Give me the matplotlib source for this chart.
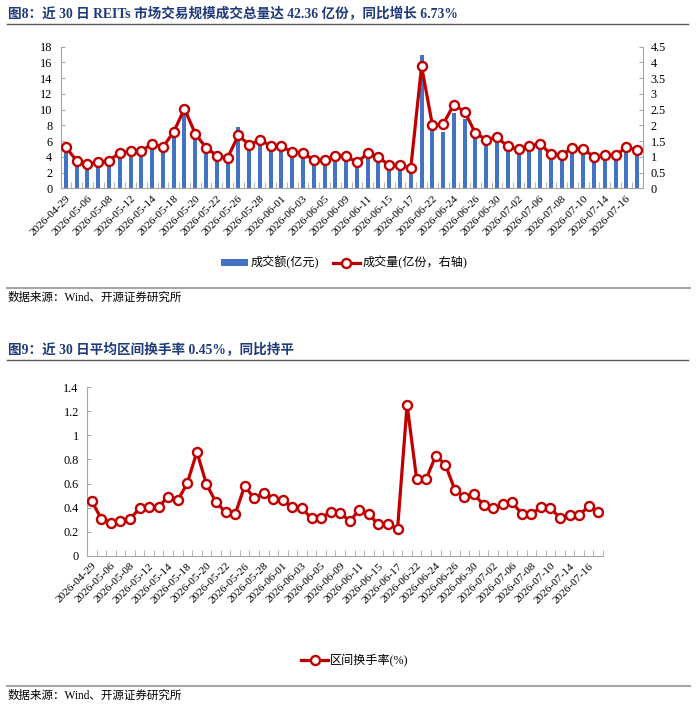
import matplotlib
matplotlib.use("Agg")
import matplotlib.pyplot as plt
from matplotlib.lines import Line2D
from matplotlib.patches import Patch
import numpy as np

plt.rcParams['font.family'] = ['Liberation Serif', 'Noto Sans CJK SC', 'DejaVu Sans']

dates = ["2026-04-29", "2026-04-30", "2026-05-06", "2026-05-07", "2026-05-08", "2026-05-11",
         "2026-05-12", "2026-05-13", "2026-05-14", "2026-05-15", "2026-05-18", "2026-05-19",
         "2026-05-20", "2026-05-21", "2026-05-22", "2026-05-25", "2026-05-26", "2026-05-27",
         "2026-05-28", "2026-05-29", "2026-06-01", "2026-06-02", "2026-06-03", "2026-06-04",
         "2026-06-05", "2026-06-08", "2026-06-09", "2026-06-10", "2026-06-11", "2026-06-12",
         "2026-06-15", "2026-06-16", "2026-06-17", "2026-06-18", "2026-06-22", "2026-06-23",
         "2026-06-24", "2026-06-25", "2026-06-26", "2026-06-29", "2026-06-30", "2026-07-01",
         "2026-07-02", "2026-07-03", "2026-07-06", "2026-07-07", "2026-07-08", "2026-07-09",
         "2026-07-10", "2026-07-13", "2026-07-14", "2026-07-15", "2026-07-16", "2026-07-17"]

amount = [4.9, 3.05, 2.75, 2.9, 3.05, 4.0, 4.15, 4.2, 5.2, 4.65,
          6.65, 9.6, 6.45, 4.75, 3.8, 3.6, 7.85, 5.15, 5.85, 5.2,
          5.1, 4.2, 4.1, 3.2, 3.4, 3.8, 3.8, 3.0, 4.0, 3.6,
          2.6, 2.6, 2.1, 16.9, 7.3, 7.1, 9.6, 8.8, 6.55, 5.7,
          6.05, 5.0, 4.6, 4.95, 5.3, 3.95, 3.95, 4.75, 4.65, 3.6,
          3.8, 3.8, 4.9, 4.5]

volume = [1.30, 0.88, 0.78, 0.82, 0.88, 1.13, 1.17, 1.19, 1.41, 1.31,
          1.79, 2.53, 1.74, 1.29, 1.04, 0.97, 1.68, 1.39, 1.53, 1.36,
          1.33, 1.15, 1.13, 0.89, 0.90, 1.04, 1.03, 0.82, 1.11, 0.99,
          0.73, 0.74, 0.64, 3.88, 2.02, 2.04, 2.66, 2.43, 1.75, 1.55,
          1.62, 1.33, 1.24, 1.35, 1.42, 1.08, 1.07, 1.28, 1.26, 0.99,
          1.05, 1.05, 1.30, 1.22]

turnover = [0.453, 0.307, 0.276, 0.285, 0.307, 0.393, 0.401, 0.409, 0.489, 0.459,
            0.605, 0.863, 0.594, 0.445, 0.362, 0.343, 0.581, 0.476, 0.525, 0.470,
            0.462, 0.401, 0.393, 0.310, 0.315, 0.365, 0.359, 0.285, 0.384, 0.343,
            0.260, 0.263, 0.224, 1.255, 0.636, 0.639, 0.832, 0.758, 0.547, 0.487,
            0.511, 0.423, 0.393, 0.426, 0.445, 0.346, 0.343, 0.406, 0.395, 0.315,
            0.335, 0.335, 0.412, 0.365]

left_ticks = [0, 2, 4, 6, 8, 10, 12, 14, 16, 18]
right_ticks = [0, 0.5, 1, 1.5, 2, 2.5, 3, 3.5, 4, 4.5]
right_labels = ["0", "0.5", "1", "1.5", "2", "2.5", "3", "3.5", "4", "4.5"]
bottom_ticks = [0, 0.2, 0.4, 0.6, 0.8, 1.0, 1.2, 1.4]
bottom_labels = ["0", "0.2", "0.4", "0.6", "0.8", "1", "1.2", "1.4"]

title1 = "图8：近 30 日 REITs 市场交易规模成交总量达 42.36 亿份，同比增长 6.73%"
title2 = "图9：近 30 日平均区间换手率 0.45%，同比持平"
source = "数据来源：Wind、开源证券研究所"
bar_name = "成交额(亿元)"
line_name = "成交量(亿份，右轴)"
turn_name = "区间换手率(%)"

W, H = 700, 710
fig = plt.figure(figsize=(W / 100, H / 100), dpi=100)

BLUE = "#4472C4"
RED = "#C00000"
AXC = "#A6A6A6"
TITLEC = "#1F3A7A"
TXT = "#000000"


def fx(px):
    return px / W


def fy(py):
    return 1 - py / H


def style_x(ax, n):
    ax.set_xlim(-0.5, n - 0.5)
    ax.set_xticks(np.arange(0, n, 2))
    ax.set_xticklabels(dates[::2], rotation=45, ha='right', rotation_mode='anchor',
                       fontsize=8.2, color=TXT)
    ax.set_xticks(np.arange(-0.5, n, 1), minor=True)
    ax.tick_params(axis='x', which='major', length=0, pad=4)
    ax.tick_params(axis='x', which='minor', length=4, direction='in', color=AXC)


n = len(dates)
x = np.arange(n)
LKW = dict(color=RED, lw=2.3, marker='o', ms=6.5, mfc='white', mec=RED, mew=1.7)

# ---------- Chart 1 ----------
ax1 = fig.add_axes([fx(60.5), fy(188.3), fx(642.5 - 60.5), (188.3 - 46.7) / H])
ax1.bar(x, amount, width=0.38, color=BLUE, zorder=2)
ax1.set_ylim(0, 18)
ax1.set_yticks(left_ticks)
ax1.set_yticklabels([str(t) for t in left_ticks], fontsize=8.8, color=TXT)
ax1.tick_params(axis='y', direction='in', length=3, color=AXC, pad=6)
style_x(ax1, n)
for s in ['top', 'right']:
    ax1.spines[s].set_visible(False)
for s in ['left', 'bottom']:
    ax1.spines[s].set_color(AXC)
    ax1.spines[s].set_linewidth(0.8)

ax2 = ax1.twinx()
ax2.plot(x, volume, zorder=3, **LKW)
ax2.set_ylim(0, 4.5)
ax2.set_yticks(right_ticks)
ax2.set_yticklabels(right_labels, fontsize=8.8, color=TXT)
ax2.tick_params(axis='y', direction='in', length=3, color=AXC, pad=6)
for s in ['top', 'left', 'bottom']:
    ax2.spines[s].set_visible(False)
ax2.spines['right'].set_color(AXC)
ax2.spines['right'].set_linewidth(0.8)

h1 = Patch(facecolor=BLUE, edgecolor='none')
h2 = Line2D([], [], **LKW)
fig.legend([h1, h2], [bar_name, line_name], loc='center', bbox_to_anchor=(fx(344), fy(263)),
           ncol=2, frameon=False, fontsize=8.7, handlelength=2.2, handleheight=0.5,
           columnspacing=1.2, handletextpad=0.2)

# ---------- Chart 2 ----------
ax3 = fig.add_axes([fx(87), fy(555.7), fx(603 - 87), (555.7 - 387.3) / H])
ax3.plot(x, turnover, zorder=3, **LKW)
ax3.set_ylim(0, 1.4)
ax3.set_yticks(bottom_ticks)
ax3.set_yticklabels(bottom_labels, fontsize=8.8, color=TXT)
ax3.tick_params(axis='y', direction='in', length=3, color=AXC, pad=6)
style_x(ax3, n)
for s in ['top', 'right']:
    ax3.spines[s].set_visible(False)
for s in ['left', 'bottom']:
    ax3.spines[s].set_color(AXC)
    ax3.spines[s].set_linewidth(0.8)

h3 = Line2D([], [], **LKW)
fig.legend([h3], [turn_name], loc='center', bbox_to_anchor=(fx(355), fy(661)),
           frameon=False, fontsize=8.7, handlelength=2.2, handletextpad=0.2)

# ---------- Titles, rules and sources ----------
fig.text(fx(8), fy(14), title1, fontsize=9.8, fontweight='bold', color=TITLEC, va='center', ha='left')
fig.add_artist(Line2D([fx(7), fx(688)], [fy(24), fy(24)], color='#595959', lw=1.0))
fig.add_artist(Line2D([fx(7), fx(690)], [fy(288), fy(288)], color='#A6A6A6', lw=1.5))
fig.text(fx(8), fy(298), source, fontsize=8.3, color=TXT, va='center', ha='left')

fig.text(fx(8), fy(350.5), title2, fontsize=9.8, fontweight='bold', color=TITLEC, va='center', ha='left')
fig.add_artist(Line2D([fx(7), fx(688)], [fy(360), fy(360)], color='#595959', lw=1.0))
fig.add_artist(Line2D([fx(7), fx(690)], [fy(686), fy(686)], color='#A6A6A6', lw=1.5))
fig.text(fx(8), fy(696), source, fontsize=8.3, color=TXT, va='center', ha='left')

fig.savefig("out.png", dpi=100)
